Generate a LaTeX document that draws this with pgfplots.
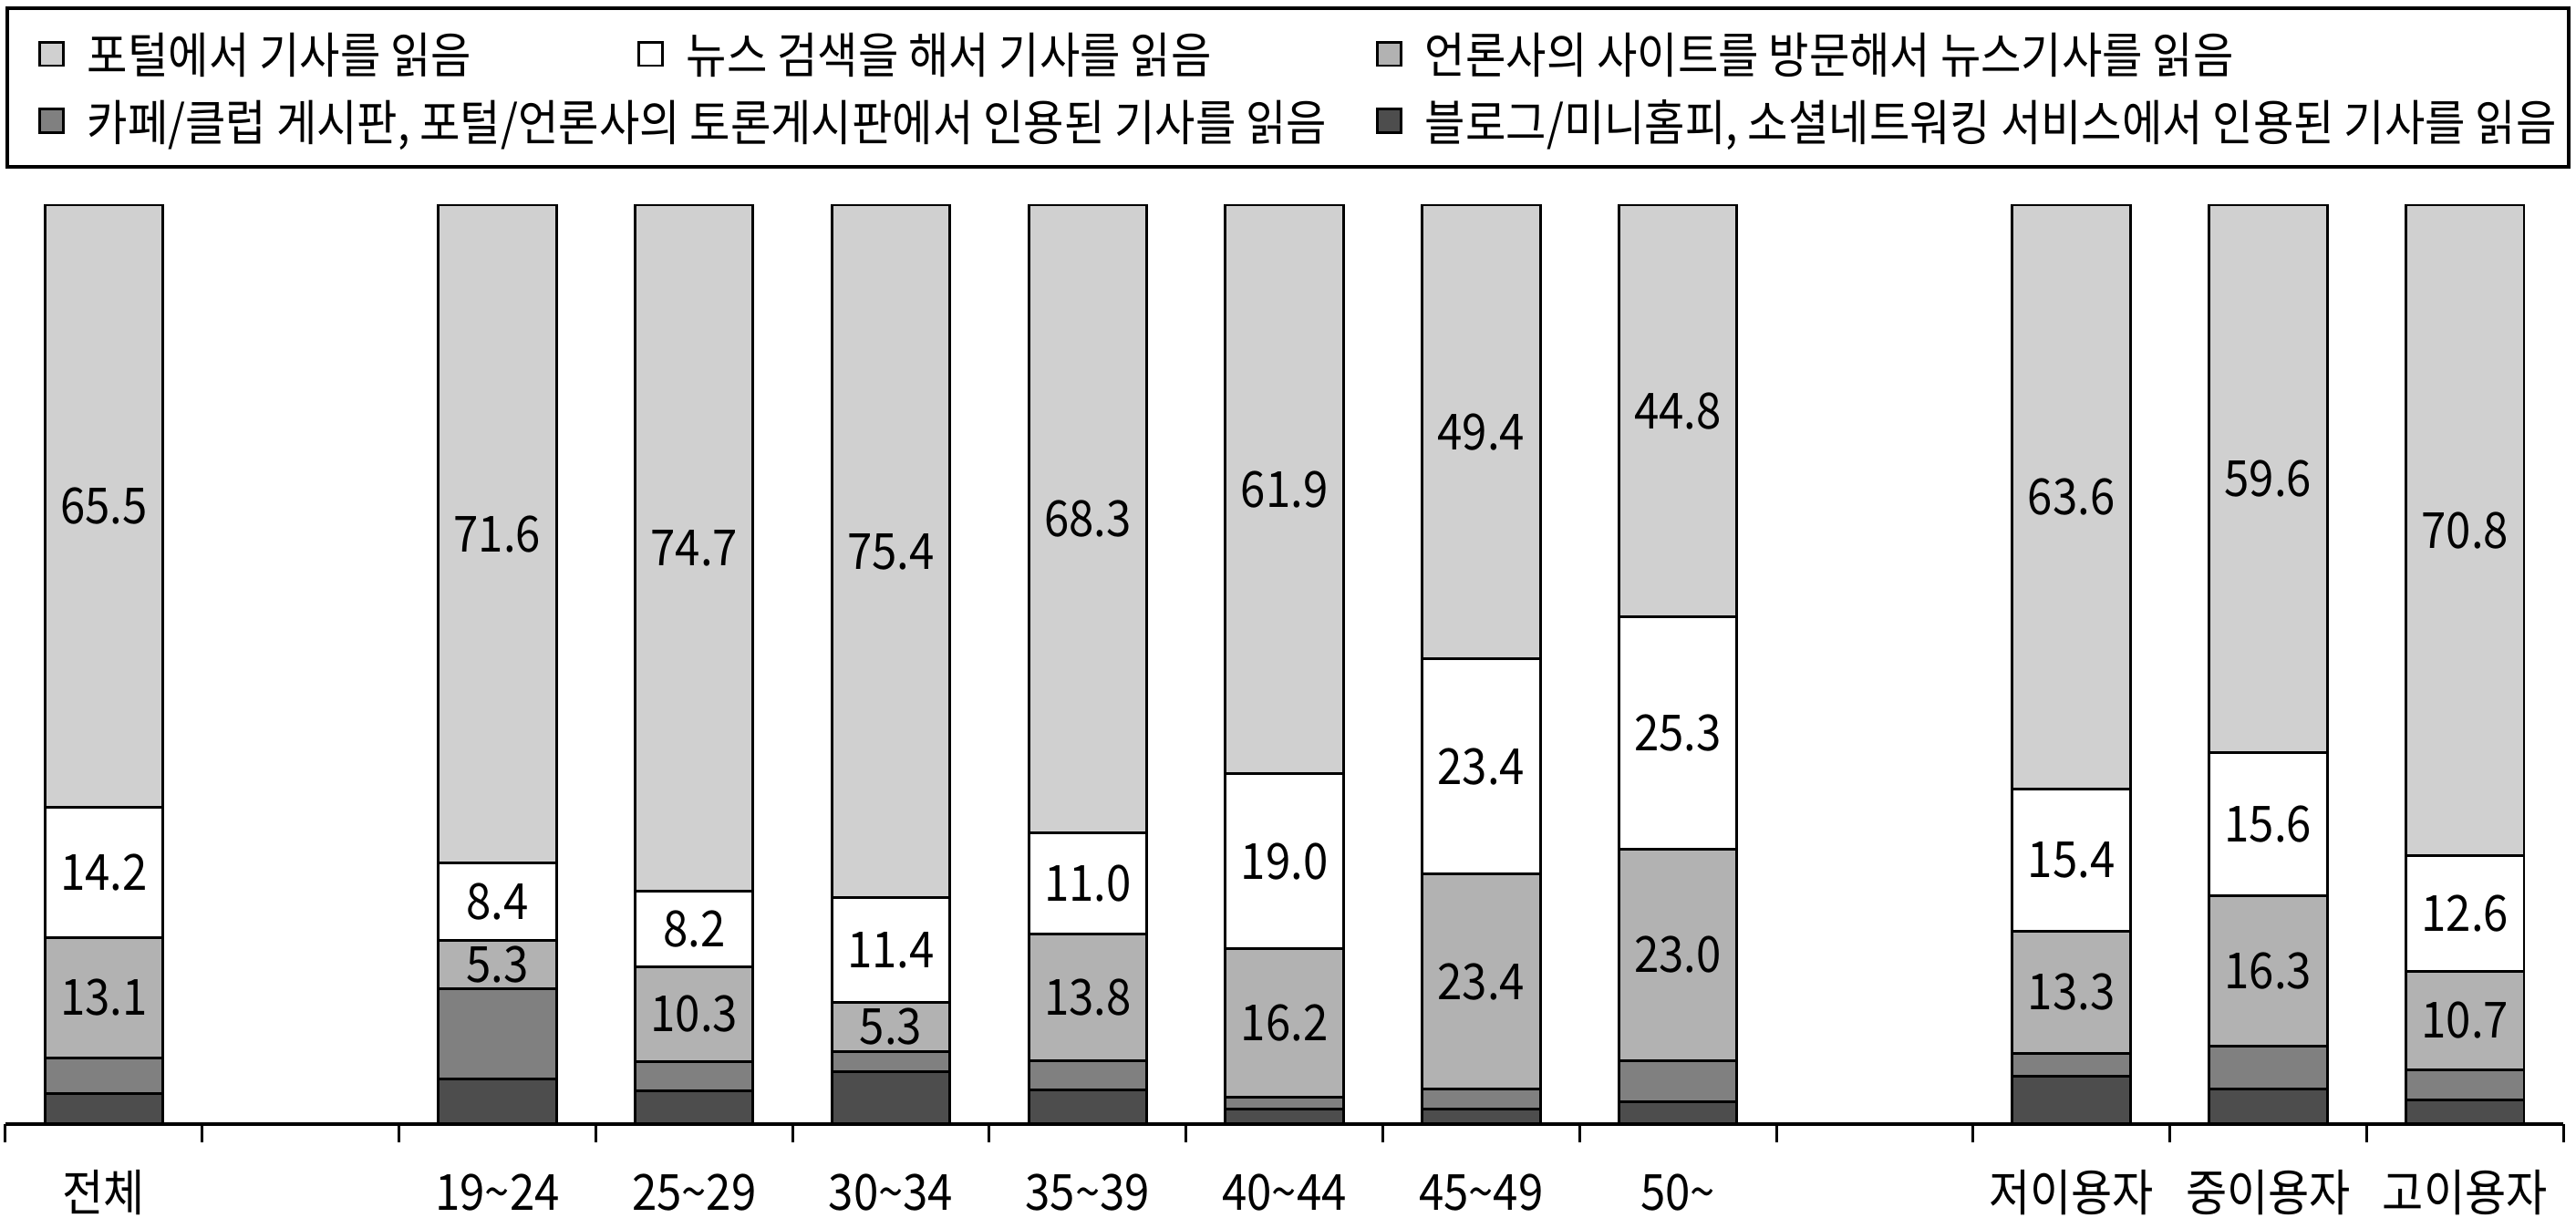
\documentclass[border=0pt]{standalone}
\usepackage{fontspec}
\setmainfont{Noto Sans CJK KR}[FakeStretch=0.9]
\usepackage{pgfplots}
\usepackage{pgfplotstable}
\pgfplotsset{compat=1.18}

\definecolor{portal}{HTML}{D0D0D0}
\definecolor{press}{HTML}{B2B2B2}
\definecolor{cafe}{HTML}{808080}
\definecolor{blog}{HTML}{4D4D4D}

% shares in %, bottom to top: blog, cafe, press, search, portal
\pgfplotstableread{
x  blog cafe press search portal
0  3.3  3.9  13.1  14.2  65.5
2  4.9  9.8  5.3   8.4   71.6
3  3.6  3.2  10.3  8.2   74.7
4  5.7  2.2  5.3   11.4  75.4
5  3.7  3.2  13.8  11.0  68.3
6  1.6  1.3  16.2  19.0  61.9
7  1.6  2.2  23.4  23.4  49.4
8  2.4  4.5  23.0  25.3  44.8
10 5.2  2.5  13.3  15.4  63.6
11 3.8  4.7  16.3  15.6  59.6
12 2.6  3.3  10.7  12.6  70.8
}\shares

\pgfplotsset{
  sq/.style={legend image code/.code={\draw[fill=#1, draw=black, line width=0.6pt] (0pt,-2.6pt) rectangle (5.2pt,2.6pt);}},
  labelled/.style={
    visualization depends on={rawy \as \segval},
    nodes near coords={\pgfmathprintnumber[fixed,fixed zerofill,precision=1]{\segval}},
    every node near coord/.append style={anchor=center, text=black, font=\fontsize{11}{12}\selectfont},
  },
}

\begin{document}
\fontsize{10.5}{12}\selectfont
\begin{tikzpicture}
\useasboundingbox (-1.2pt,-20.6pt) rectangle (567.8pt,248.3pt);
\begin{axis}[
  at={(0pt,0pt)}, anchor=south west,
  scale only axis, width=565pt, height=203pt,
  ybar stacked, bar width=0.6,
  xmin=-0.5, xmax=12.5, ymin=0, ymax=100,
  axis x line*=bottom, axis y line=none,
  x axis line style={line width=0.8pt},
  xtick={0,...,12},
  xticklabels={전체,,19\textasciitilde 24,25\textasciitilde 29,30\textasciitilde 34,35\textasciitilde 39,40\textasciitilde 44,45\textasciitilde 49,50\textasciitilde,,저이용자,중이용자,고이용자},
  major tick length=0pt,
  minor xtick={-0.5,0.5,...,12.5},
  minor tick length=4pt,
  tick align=outside,
  minor tick style={line width=0.6pt, black},
  xticklabel style={anchor=center, yshift=-15.2pt, font=\fontsize{11}{13}\selectfont},
  /pgf/number format/assume math mode=true,
  every axis plot/.append style={draw=black, line width=0.6pt},
  legend columns=3,
  legend cell align=left,
  legend style={
    at={(axis description cs:0,1)}, anchor=north west, yshift=43.9pt,
    draw=black, line width=0.8pt, fill=white,
    font=\fontsize{10.8}{12}\selectfont,
    inner xsep=6.9pt, inner ysep=3.6pt,
    row sep=1.85pt,
    nodes={inner sep=2pt, text height=8.9pt, text depth=0.1pt},
    /tikz/every odd column/.append style={column sep=3pt},
  },
]
\addplot[fill=blog, forget plot] table[x=x, y=blog] {\shares};
\addplot[fill=cafe, forget plot] table[x=x, y=cafe] {\shares};
\addplot[fill=press, forget plot, labelled] table[x=x, y=press] {\shares};
\addplot[fill=white, forget plot, labelled] table[x=x, y=search] {\shares};
\addplot[fill=portal, forget plot, labelled] table[x=x, y=portal] {\shares};

\addlegendimage{sq=portal}
\addlegendentry{\makebox[119.5pt][l]{포털에서 기사를 읽음}}
\addlegendimage{sq=white}
\addlegendentry{\makebox[150.4pt][l]{뉴스 검색을 해서 기사를 읽음}}
\addlegendimage{sq=press}
\addlegendentry{\makebox[243.7pt][l]{언론사의 사이트를 방문해서 뉴스기사를 읽음}}
\addlegendimage{sq=cafe}
\addlegendentry{\makebox[119.5pt][l]{카페/클럽 게시판, 포털/언론사의 토론게시판에서 인용된 기사를 읽음}}
\addlegendimage{empty legend}
\addlegendentry{}
\addlegendimage{sq=blog}
\addlegendentry{\makebox[243.7pt][l]{블로그/미니홈피, 소셜네트워킹 서비스에서 인용된 기사를 읽음}}
\end{axis}
\end{tikzpicture}
\end{document}
